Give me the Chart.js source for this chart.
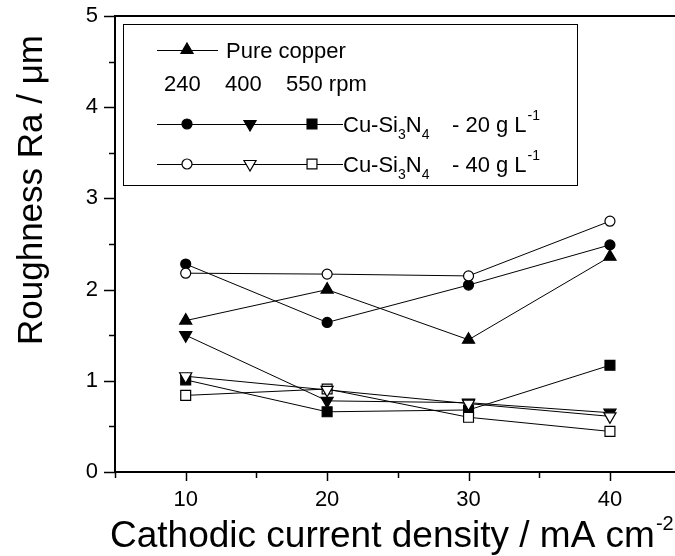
<!DOCTYPE html>
<html>
<head>
<meta charset="utf-8">
<script src="https://cdn.jsdelivr.net/npm/chart.js@4"></script>
<style>
  html, body { margin: 0; padding: 0; background: #fff; overflow: hidden; }
  #wrap { width: 675px; height: 556px; position: relative; }
</style>
</head>
<body>
<div id="wrap"><canvas id="chart"></canvas></div>
<script>
// Roughness vs cathodic current density

const currentDensity = [10, 20, 30, 40];

const pureCopper = [1.66, 2.0, 1.45, 2.36];

// Cu-Si3N4 20 g/L at 240, 400, 550 rpm
const si20rpm240 = [2.28, 1.64, 2.05, 2.49];
const si20rpm400 = [1.50, 0.78, 0.76, 0.65];
const si20rpm550 = [1.01, 0.66, 0.68, 1.17];

// Cu-Si3N4 40 g/L at 240, 400, 550 rpm
const si40rpm240 = [2.18, 2.17, 2.15, 2.75];
const si40rpm400 = [1.05, 0.90, 0.75, 0.61];
const si40rpm550 = [0.84, 0.91, 0.60, 0.445];

const xTickLabels = [10, 20, 30, 40];
const yTickLabels = [0, 1, 2, 3, 4, 5];

const FONT = '"Liberation Sans", Arial, Helvetica, sans-serif';

function toPoints(values) {
  return currentDensity.map((x, i) => ({ x: x, y: values[i] }));
}

function series(label, values, style, filled, radius, rotation) {
  return {
    label: label,
    data: toPoints(values),
    borderColor: '#000',
    borderWidth: 1,
    tension: 0,
    fill: false,
    pointStyle: style,
    pointRadius: radius,
    pointHoverRadius: radius,
    pointRotation: rotation || 0,
    pointBackgroundColor: filled ? '#000' : '#fff',
    pointBorderColor: '#000',
    pointBorderWidth: 1.2
  };
}

// Axis ticks, top frame line, axis titles
const frameAndTitles = {
  id: 'frameAndTitles',
  afterDraw(chart) {
    const ctx = chart.ctx;
    const area = chart.chartArea;
    const xs = chart.scales.x;
    const ys = chart.scales.y;
    ctx.save();
    ctx.strokeStyle = '#000';
    ctx.lineWidth = 2;
    ctx.beginPath();
    ctx.moveTo(area.left - 1, area.top);
    ctx.lineTo(area.right, area.top);
    ctx.stroke();

    ctx.lineWidth = 1.5;
    for (let v = 0; v <= 5.001; v += 0.5) {
      const y = Math.round(ys.getPixelForValue(v)) + 0.5;
      const len = Math.abs(v - Math.round(v)) < 0.01 ? 11 : 6;
      ctx.beginPath();
      ctx.moveTo(area.left, y);
      ctx.lineTo(area.left - len, y);
      ctx.stroke();
    }
    for (let v = 5; v <= 40.001; v += 5) {
      const x = Math.round(xs.getPixelForValue(v)) + 0.5;
      const len = (v % 10 === 0) ? 9 : 6;
      ctx.beginPath();
      ctx.moveTo(x, area.bottom);
      ctx.lineTo(x, area.bottom + len);
      ctx.stroke();
    }

    // axis titles
    ctx.fillStyle = '#000';
    ctx.textBaseline = 'alphabetic';
    ctx.textAlign = 'left';
    ctx.font = '37px ' + FONT;
    const xTitle = 'Cathodic current density / mA cm';
    ctx.fillText(xTitle, 110, 547);
    const w = ctx.measureText(xTitle).width;
    ctx.font = '20px ' + FONT;
    ctx.fillText('-2', 110 + w + 1, 530);

    ctx.save();
    ctx.translate(42, 345);
    ctx.rotate(-Math.PI / 2);
    ctx.font = '35px ' + FONT;
    ctx.fillText('Roughness Ra / \u03bcm', 0, 0);
    ctx.restore();
    ctx.restore();
  }
};

function drawMarker(ctx, style, x, y, radius, rotation, filled) {
  ctx.fillStyle = filled ? '#000' : '#fff';
  ctx.strokeStyle = '#000';
  ctx.lineWidth = 1.2;
  Chart.helpers.drawPoint(ctx, {
    pointStyle: style, radius: radius, rotation: rotation || 0, borderWidth: 1.2
  }, x, y);
}

function drawFormula(ctx, x, baseline, loading) {
  ctx.fillStyle = '#000';
  ctx.textAlign = 'left';
  const big = '22px ' + FONT;
  const small = '14px ' + FONT;
  let cx = x;
  const parts = [
    ['Cu-Si', big, 0], ['3', small, 7], ['N', big, 0], ['4', small, 7]
  ];
  parts.forEach(p => {
    ctx.font = p[1];
    ctx.fillText(p[0], cx, baseline + p[2]);
    cx += ctx.measureText(p[0]).width;
  });
  ctx.font = big;
  const rest = '- ' + loading + ' g L';
  ctx.fillText(rest, 452, baseline);
  const rw = ctx.measureText(rest).width;
  ctx.font = small;
  ctx.fillText('-1', 452 + rw + 1, baseline - 12);
}

// Legend box drawn as in the original figure
const legendBox = {
  id: 'legendBox',
  afterDraw(chart) {
    const ctx = chart.ctx;
    ctx.save();
    ctx.fillStyle = '#fff';
    ctx.fillRect(123.5, 24.5, 454, 161);
    ctx.strokeStyle = '#000';
    ctx.lineWidth = 1;
    ctx.strokeRect(123.5, 24.5, 454, 161);

    ctx.lineWidth = 1;
    // row 1
    ctx.beginPath();
    ctx.moveTo(157, 50.5); ctx.lineTo(218, 50.5);
    ctx.stroke();
    drawMarker(ctx, 'triangle', 187, 50, 7, 0, true);
    ctx.fillStyle = '#000';
    ctx.font = '22px ' + FONT;
    ctx.textAlign = 'left';
    ctx.textBaseline = 'alphabetic';
    ctx.fillText('Pure copper', 226, 58);

    // row 2
    ctx.fillText('240', 164, 91);
    ctx.fillText('400', 225, 91);
    ctx.fillText('550 rpm', 286, 91);

    // rows 3 and 4
    [[124, true, '20'], [164, false, '40']].forEach(r => {
      const y = r[0];
      ctx.strokeStyle = '#000';
      ctx.lineWidth = 1;
      ctx.beginPath();
      ctx.moveTo(157, y + 0.5); ctx.lineTo(343, y + 0.5);
      ctx.stroke();
      drawMarker(ctx, 'circle', 187, y, 5, 0, r[1]);
      drawMarker(ctx, 'triangle', 250, y, 7, 180, r[1]);
      drawMarker(ctx, 'rect', 312, y, 7, 0, r[1]);
      drawFormula(ctx, 343, y + 8, r[2]);
    });
    ctx.restore();
  }
};

new Chart(document.getElementById('chart'), {
  type: 'line',
  data: {
    datasets: [
      series('Cu-Si3N4 40 g/L 240 rpm', si40rpm240, 'circle', false, 5),
      series('Cu-Si3N4 40 g/L 400 rpm', si40rpm400, 'triangle', false, 7, 180),
      series('Cu-Si3N4 40 g/L 550 rpm', si40rpm550, 'rect', false, 7),
      series('Pure copper', pureCopper, 'triangle', true, 7),
      series('Cu-Si3N4 20 g/L 240 rpm', si20rpm240, 'circle', true, 5),
      series('Cu-Si3N4 20 g/L 400 rpm', si20rpm400, 'triangle', true, 7, 180),
      series('Cu-Si3N4 20 g/L 550 rpm', si20rpm550, 'rect', true, 7)
    ]
  },
  options: {
    responsive: true,
    maintainAspectRatio: false,
    animation: false,
    layout: { autoPadding: false, padding: { top: 16, right: 0, left: 0, bottom: 0 } },
    plugins: {
      legend: { display: false },
      tooltip: { enabled: false }
    },
    scales: {
      x: {
        type: 'linear',
        min: 5,
        max: 44.6,
        afterFit: s => {
          s.height = 84;
          s.paddingLeft = 0;
          s.paddingRight = 0;
        },
        grid: { display: false, drawTicks: false },
        border: { display: true, color: '#000', width: 2 },
        ticks: {
          stepSize: 5,
          includeBounds: false,
          autoSkip: false,
          maxRotation: 0,
          padding: 15,
          color: '#000',
          font: { family: FONT, size: 22 },
          callback: v => xTickLabels.includes(v) ? String(v) : ''
        }
      },
      y: {
        min: 0,
        max: 5,
        afterFit: s => {
          s.width = 115;
          s.paddingTop = 0;
          s.paddingBottom = 0;
        },
        grid: { display: false, drawTicks: false },
        border: { display: true, color: '#000', width: 2 },
        ticks: {
          stepSize: 0.5,
          autoSkip: false,
          padding: 17,
          color: '#000',
          font: { family: FONT, size: 22 },
          callback: v => yTickLabels.includes(v) ? String(v) : ''
        }
      }
    }
  },
  plugins: [frameAndTitles, legendBox]
});
</script>
</body>
</html>
